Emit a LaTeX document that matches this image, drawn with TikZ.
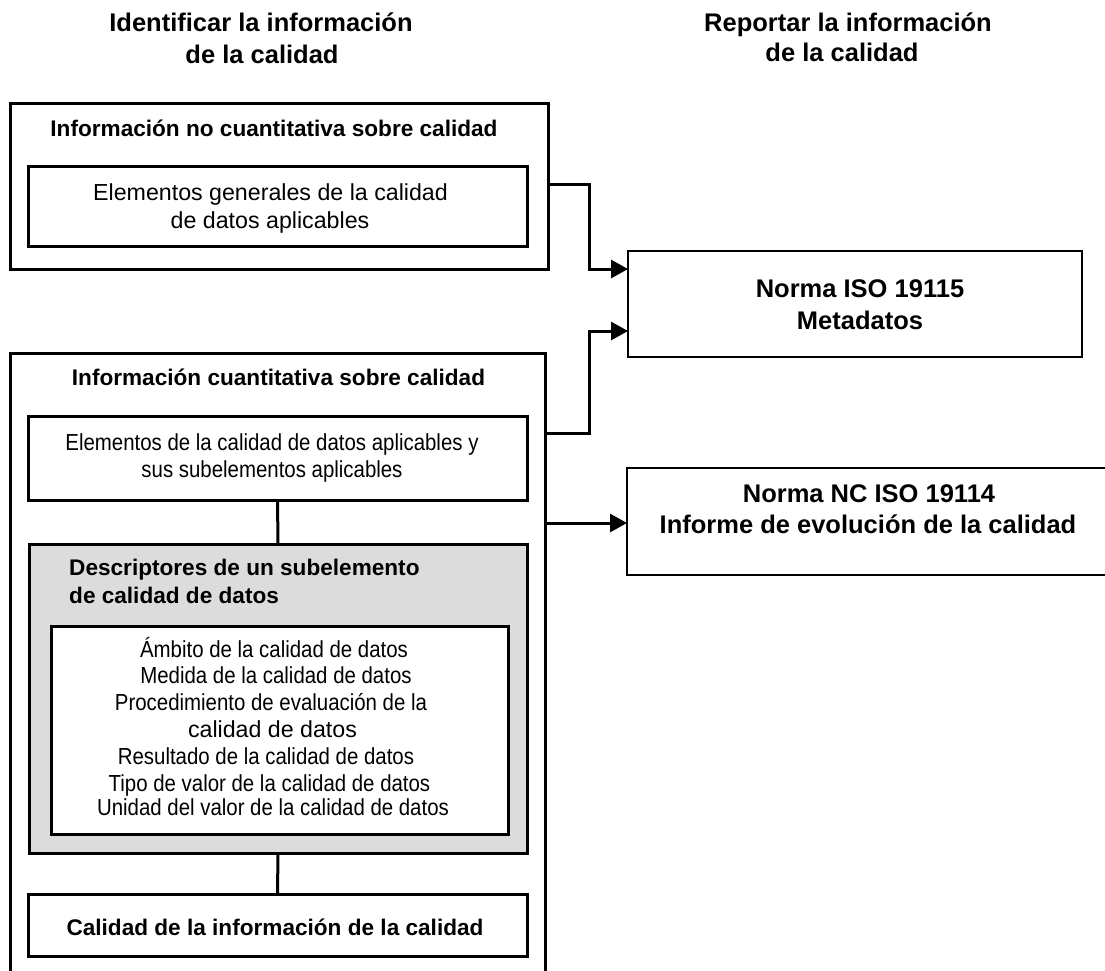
\documentclass[tikz,border=0pt]{standalone}
\usepackage{fontspec}
\setmainfont{Liberation Sans}
\newfontfamily\condfont[FakeStretch=0.88]{Liberation Sans}
\usetikzlibrary{arrows.meta}
\definecolor{boxgray}{RGB}{220,220,220}
\tikzset{
  frame/.style={draw, line width=3pt, inner sep=0pt, outer sep=0pt},
  ghost/.style={inner sep=0pt, outer sep=0pt},
  conn/.style={line width=3pt},
  arr/.style={conn, -{Triangle[length=17pt,width=18pt]}},
  lbl/.style={anchor=base, inner sep=0pt},
  hdr/.style={lbl, font=\fontsize{25.5}{30}\selectfont\bfseries},
  ttl/.style={lbl, font=\fontsize{22.6}{27}\selectfont\bfseries},
  txt/.style={lbl, font=\fontsize{23.2}{28}\selectfont},
  ctxt/.style={lbl, font=\fontsize{23.2}{28}\selectfont\condfont},
  ntxt/.style={lbl, font=\fontsize{25.5}{30}\selectfont\bfseries},
}
\begin{document}
\begin{tikzpicture}[x=1pt,y=-1pt]
\useasboundingbox (0,0) rectangle (1105,970);

% column headers
\node[hdr] (h1a) at (261,31) {Identificar la información};
\node[hdr] (h1b) at (262,63) {de la calidad};
\node[hdr] (h2a) at (848,31) {Reportar la información};
\node[hdr] (h2b) at (842,61) {de la calidad};

% non quantitative block
\node[frame, minimum width=538pt, minimum height=166pt] (box1) at (279,186) {};
\node[ttl] (box1t) at (274,136) {Información no cuantitativa sobre calidad};
\node[frame, minimum width=499pt, minimum height=80pt] (inner1) at (277.5,206) {};
\node[txt] (inner1a) at (270.5,200) {Elementos generales de la calidad};
\node[txt] (inner1b) at (270,228) {de datos aplicables};

% quantitative block (open at the bottom)
\node[ghost, minimum width=535pt, minimum height=619pt] (box2) at (277.5,662.5) {};
\draw[conn] (box2.south west) -- (box2.north west) -- (box2.north east) -- (box2.south east);
\node[ttl] (box2t) at (278.5,385) {Información cuantitativa sobre calidad};

\node[frame, minimum width=499pt, minimum height=84pt] (elem2) at (277.5,458) {};
\node[ctxt] (elem2a) at (272,450) {Elementos de la calidad de datos aplicables y};
\node[ctxt] (elem2b) at (272,477) {sus subelementos aplicables};

\node[frame, fill=boxgray, minimum width=498pt, minimum height=309pt] (gray) at (278,698.5) {};
\node[ttl, anchor=base west] (grayta) at (69,575) {Descriptores de un subelemento};
\node[ttl, anchor=base west] (graytb) at (69,603) {de calidad de datos};

\node[frame, fill=white, minimum width=457pt, minimum height=208pt] (list) at (279.5,730) {};
\node[ctxt] (l1) at (274,657) {Ámbito de la calidad de datos};
\node[ctxt] (l2) at (276,683) {Medida de la calidad de datos};
\node[ctxt] (l3) at (271,710) {Procedimiento de evaluación de la};
\node[txt]  (l4) at (272.5,737) {calidad de datos};
\node[ctxt] (l5) at (266,764) {Resultado de la calidad de datos};
\node[ctxt] (l6) at (269.5,791) {Tipo de valor de la calidad de datos};
\node[ctxt] (l7) at (273,815) {Unidad del valor de la calidad de datos};

\node[frame, minimum width=499pt, minimum height=62pt] (calbox) at (277.5,925) {};
\node[ttl] (calboxt) at (275,935) {Calidad de la información de la calidad};

\draw[conn] (elem2.south) -- (gray.north);
\draw[conn] (gray.south) -- (calbox.north);

% reporting targets
\node[frame, line width=2.6pt, minimum width=454pt, minimum height=106pt] (norma1) at (855,304) {};
\node[ntxt] (norma1a) at (860,297) {Norma ISO 19115};
\node[ntxt] (norma1b) at (860,329) {Metadatos};

\node[ghost, minimum width=478pt, minimum height=107pt] (norma2) at (866,521.5) {};
\draw[line width=2.6pt] (norma2.north east) -- (norma2.north west) -- (norma2.south west) -- (norma2.south east);
\node[ntxt] (norma2a) at (869,502) {Norma NC ISO 19114};
\node[ntxt] (norma2b) at (868,533) {Informe de evolución de la calidad};

% connectors
\draw[arr] ([yshift=2pt]box1.east) -- ++(41,0) |- ([yshift=35pt]norma1.west);
\coordinate (q1) at ([yshift=-80pt]box2.north east);
\draw[arr] (q1) -- ++(44,0) |- ([yshift=-27pt]norma1.west);
\coordinate (q2) at ([yshift=-170pt]box2.north east);
\draw[arr] (q2) -- (q2 -| norma2.west);
\end{tikzpicture}
\end{document}
